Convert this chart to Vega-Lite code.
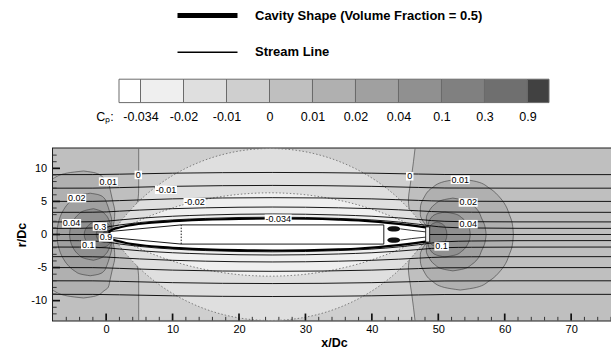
{
"$schema": "https://vega.github.io/schema/vega-lite/v6.json",
"background": "white",
"autosize": {"type": "pad"},
"padding": {"left": 14, "top": 8.2, "right": 0, "bottom": 0},
"bounds": "flush",
"center": true,
"spacing": 45.3,
"config": {"view": {"stroke": null}, "font": "Liberation Sans", "axis": {"labelFont": "Liberation Sans", "titleFont": "Liberation Sans"}, "legend": {"labelFont": "Liberation Sans"}},
"datasets": {
"bins": [{"band":"<-0.034","lo":-0.5,"hi":0},{"band":"-0.034–-0.02","lo":0,"hi":1},{"band":"-0.02–-0.01","lo":1,"hi":2},{"band":"-0.01–0","lo":2,"hi":3},{"band":"0–0.01","lo":3,"hi":4},{"band":"0.01–0.02","lo":4,"hi":5},{"band":"0.02–0.04","lo":5,"hi":6},{"band":"0.04–0.1","lo":6,"hi":7},{"band":"0.1–0.3","lo":7,"hi":8},{"band":"0.3–0.9","lo":8,"hi":9},{"band":">0.9","lo":9,"hi":9.5}],
"frame": [{"x1":-8,"x2":76.6,"y1":-13,"y2":13}],
"xt": [{"v":-6,"m":0},{"v":-4,"m":0},{"v":-2,"m":0},{"v":0,"m":1},{"v":2,"m":0},{"v":4,"m":0},{"v":6,"m":0},{"v":8,"m":0},{"v":10,"m":1},{"v":12,"m":0},{"v":14,"m":0},{"v":16,"m":0},{"v":18,"m":0},{"v":20,"m":1},{"v":22,"m":0},{"v":24,"m":0},{"v":26,"m":0},{"v":28,"m":0},{"v":30,"m":1},{"v":32,"m":0},{"v":34,"m":0},{"v":36,"m":0},{"v":38,"m":0},{"v":40,"m":1},{"v":42,"m":0},{"v":44,"m":0},{"v":46,"m":0},{"v":48,"m":0},{"v":50,"m":1},{"v":52,"m":0},{"v":54,"m":0},{"v":56,"m":0},{"v":58,"m":0},{"v":60,"m":1},{"v":62,"m":0},{"v":64,"m":0},{"v":66,"m":0},{"v":68,"m":0},{"v":70,"m":1},{"v":72,"m":0},{"v":74,"m":0},{"v":76,"m":0}],
"yt": [{"v":-12,"m":0},{"v":-11,"m":0},{"v":-10,"m":1},{"v":-9,"m":0},{"v":-8,"m":0},{"v":-7,"m":0},{"v":-6,"m":0},{"v":-5,"m":1},{"v":-4,"m":0},{"v":-3,"m":0},{"v":-2,"m":0},{"v":-1,"m":0},{"v":0,"m":1},{"v":1,"m":0},{"v":2,"m":0},{"v":3,"m":0},{"v":4,"m":0},{"v":5,"m":1},{"v":6,"m":0},{"v":7,"m":0},{"v":8,"m":0},{"v":9,"m":0},{"v":10,"m":1},{"v":11,"m":0},{"v":12,"m":0}],
"zero": [{"y":-13,"xl":4.9,"xr":46.5},{"y":-9,"xl":4.9,"xr":46.0},{"y":-7,"xl":4.9,"xr":45.7},{"y":-5.3,"xl":4.8,"xr":45.5},{"y":-4,"xl":4.3,"xr":45.6},{"y":-3.3,"xl":4.0,"xr":45.9},{"y":-2.5,"xl":3.4,"xr":46.5},{"y":-1.8,"xl":2.6,"xr":47.2},{"y":-1.2,"xl":1.8,"xr":48.0},{"y":-0.8,"xl":1.0,"xr":48.5},{"y":0,"xl":0.8,"xr":48.6},{"y":0.8,"xl":1.0,"xr":48.5},{"y":1.2,"xl":1.8,"xr":48.0},{"y":1.8,"xl":2.6,"xr":47.2},{"y":2.5,"xl":3.4,"xr":46.5},{"y":3.3,"xl":4.0,"xr":45.9},{"y":4,"xl":4.3,"xr":45.6},{"y":5.3,"xl":4.8,"xr":45.5},{"y":7,"xl":4.9,"xr":45.7},{"y":9,"xl":4.9,"xr":46.0},{"y":13,"xl":4.9,"xr":46.5}],
"lens": [
{"lev":-0.01,"x":0.8,"hi":0,"lo":0},{"lev":-0.01,"x":2,"hi":1.71,"lo":-1.71},{"lev":-0.01,"x":4,"hi":4.07,"lo":-4.07},{"lev":-0.01,"x":6,"hi":6.0,"lo":-6.0},{"lev":-0.01,"x":8,"hi":7.59,"lo":-7.59},{"lev":-0.01,"x":10,"hi":8.91,"lo":-8.91},{"lev":-0.01,"x":12,"hi":10.01,"lo":-10.01},{"lev":-0.01,"x":14,"hi":10.91,"lo":-10.91},{"lev":-0.01,"x":16,"hi":11.64,"lo":-11.64},{"lev":-0.01,"x":18,"hi":12.2,"lo":-12.2},{"lev":-0.01,"x":20,"hi":12.61,"lo":-12.61},{"lev":-0.01,"x":22,"hi":12.87,"lo":-12.87},{"lev":-0.01,"x":24.7,"hi":13.0,"lo":-13.0},{"lev":-0.01,"x":27.4,"hi":12.87,"lo":-12.87},{"lev":-0.01,"x":29.4,"hi":12.61,"lo":-12.61},{"lev":-0.01,"x":31.4,"hi":12.2,"lo":-12.2},{"lev":-0.01,"x":33.4,"hi":11.64,"lo":-11.64},{"lev":-0.01,"x":35.4,"hi":10.91,"lo":-10.91},{"lev":-0.01,"x":37.4,"hi":10.01,"lo":-10.01},{"lev":-0.01,"x":39.4,"hi":8.91,"lo":-8.91},{"lev":-0.01,"x":41.4,"hi":7.59,"lo":-7.59},{"lev":-0.01,"x":43.4,"hi":6.0,"lo":-6.0},{"lev":-0.01,"x":45.4,"hi":4.07,"lo":-4.07},{"lev":-0.01,"x":47.4,"hi":1.71,"lo":-1.71},{"lev":-0.01,"x":48.6,"hi":0,"lo":0},
{"lev":-0.02,"x":0.8,"hi":0,"lo":0},{"lev":-0.02,"x":2,"hi":0.66,"lo":-0.66},{"lev":-0.02,"x":4,"hi":1.66,"lo":-1.66},{"lev":-0.02,"x":6,"hi":2.55,"lo":-2.55},{"lev":-0.02,"x":8,"hi":3.33,"lo":-3.33},{"lev":-0.02,"x":10,"hi":4.02,"lo":-4.02},{"lev":-0.02,"x":12,"hi":4.61,"lo":-4.61},{"lev":-0.02,"x":14,"hi":5.10,"lo":-5.10},{"lev":-0.02,"x":16,"hi":5.51,"lo":-5.51},{"lev":-0.02,"x":18,"hi":5.83,"lo":-5.83},{"lev":-0.02,"x":20,"hi":6.07,"lo":-6.07},{"lev":-0.02,"x":22,"hi":6.22,"lo":-6.22},{"lev":-0.02,"x":24.7,"hi":6.3,"lo":-6.3},{"lev":-0.02,"x":27.4,"hi":6.22,"lo":-6.22},{"lev":-0.02,"x":29.4,"hi":6.07,"lo":-6.07},{"lev":-0.02,"x":31.4,"hi":5.83,"lo":-5.83},{"lev":-0.02,"x":33.4,"hi":5.51,"lo":-5.51},{"lev":-0.02,"x":35.4,"hi":5.10,"lo":-5.10},{"lev":-0.02,"x":37.4,"hi":4.61,"lo":-4.61},{"lev":-0.02,"x":39.4,"hi":4.02,"lo":-4.02},{"lev":-0.02,"x":41.4,"hi":3.33,"lo":-3.33},{"lev":-0.02,"x":43.4,"hi":2.55,"lo":-2.55},{"lev":-0.02,"x":45.4,"hi":1.66,"lo":-1.66},{"lev":-0.02,"x":47.4,"hi":0.66,"lo":-0.66},{"lev":-0.02,"x":48.6,"hi":0,"lo":0}],
"loops": [
{"lev":0.01,"s":"f","y":-9.6,"xl":-3.4,"xr":-3.4},{"lev":0.01,"s":"f","y":-9.3,"xl":-5.8,"xr":-1.6},{"lev":0.01,"s":"f","y":-8.5,"xl":-7.9,"xr":-0.3},{"lev":0.01,"s":"f","y":-8.0,"xl":-8.6,"xr":0.3},{"lev":0.01,"s":"f","y":-6.8,"xl":-10.1,"xr":0.6},{"lev":0.01,"s":"f","y":-5.0,"xl":-11.5,"xr":1.0},{"lev":0.01,"s":"f","y":-3.5,"xl":-12.3,"xr":1.3},{"lev":0.01,"s":"f","y":-2.0,"xl":-12.8,"xr":1.2},{"lev":0.01,"s":"f","y":-1.0,"xl":-13,"xr":1.0},{"lev":0.01,"s":"f","y":0,"xl":-13,"xr":0.8},{"lev":0.01,"s":"f","y":1.0,"xl":-13,"xr":1.0},{"lev":0.01,"s":"f","y":2.0,"xl":-12.8,"xr":1.2},{"lev":0.01,"s":"f","y":3.5,"xl":-12.3,"xr":1.3},{"lev":0.01,"s":"f","y":5.0,"xl":-11.5,"xr":1.0},{"lev":0.01,"s":"f","y":6.8,"xl":-10.1,"xr":0.6},{"lev":0.01,"s":"f","y":8.0,"xl":-8.6,"xr":0.3},{"lev":0.01,"s":"f","y":8.5,"xl":-7.9,"xr":-0.3},{"lev":0.01,"s":"f","y":9.3,"xl":-5.8,"xr":-1.6},{"lev":0.01,"s":"f","y":9.6,"xl":-3.4,"xr":-3.4},
{"lev":0.02,"s":"f","y":-6.24,"xl":-2.4,"xr":-2.4},{"lev":0.02,"s":"f","y":-6.0,"xl":-3.77,"xr":-1.1},{"lev":0.02,"s":"f","y":-5.5,"xl":-4.76,"xr":-0.3},{"lev":0.02,"s":"f","y":-4.7,"xl":-5.69,"xr":0.1},{"lev":0.02,"s":"f","y":-3.5,"xl":-6.54,"xr":0.5},{"lev":0.02,"s":"f","y":-2.0,"xl":-7.14,"xr":0.85},{"lev":0.02,"s":"f","y":-1.0,"xl":-7.34,"xr":0.85},{"lev":0.02,"s":"f","y":0,"xl":-7.4,"xr":0.8},{"lev":0.02,"s":"f","y":1.0,"xl":-7.34,"xr":0.85},{"lev":0.02,"s":"f","y":2.0,"xl":-7.14,"xr":0.85},{"lev":0.02,"s":"f","y":3.5,"xl":-6.54,"xr":0.5},{"lev":0.02,"s":"f","y":4.7,"xl":-5.69,"xr":0.1},{"lev":0.02,"s":"f","y":5.5,"xl":-4.76,"xr":-0.3},{"lev":0.02,"s":"f","y":6.0,"xl":-3.77,"xr":-1.1},{"lev":0.02,"s":"f","y":6.24,"xl":-2.4,"xr":-2.4},
{"lev":0.04,"s":"f","y":-3.9,"xl":-1.9,"xr":-1.9},{"lev":0.04,"s":"f","y":-3.6,"xl":-3.29,"xr":-0.9},{"lev":0.04,"s":"f","y":-3.0,"xl":-4.2,"xr":-0.1},{"lev":0.04,"s":"f","y":-2.0,"xl":-4.99,"xr":0.5},{"lev":0.04,"s":"f","y":-1.0,"xl":-5.38,"xr":0.8},{"lev":0.04,"s":"f","y":0,"xl":-5.5,"xr":0.8},{"lev":0.04,"s":"f","y":1.0,"xl":-5.38,"xr":0.8},{"lev":0.04,"s":"f","y":2.0,"xl":-4.99,"xr":0.5},{"lev":0.04,"s":"f","y":3.0,"xl":-4.2,"xr":-0.1},{"lev":0.04,"s":"f","y":3.6,"xl":-3.29,"xr":-0.9},{"lev":0.04,"s":"f","y":3.9,"xl":-1.9,"xr":-1.9},
{"lev":0.1,"s":"f","y":-2.0,"xl":-1.0,"xr":-1.0},{"lev":0.1,"s":"f","y":-1.8,"xl":-2.0,"xr":0.0},{"lev":0.1,"s":"f","y":-1.4,"xl":-2.64,"xr":0.5},{"lev":0.1,"s":"f","y":-1.0,"xl":-2.99,"xr":0.75},{"lev":0.1,"s":"f","y":0,"xl":-3.3,"xr":0.8},{"lev":0.1,"s":"f","y":1.0,"xl":-2.99,"xr":0.75},{"lev":0.1,"s":"f","y":1.4,"xl":-2.64,"xr":0.5},{"lev":0.1,"s":"f","y":1.8,"xl":-2.0,"xr":0.0},{"lev":0.1,"s":"f","y":2.0,"xl":-1.0,"xr":-1.0},
{"lev":0.3,"s":"f","y":-1.2,"xl":-0.3,"xr":-0.3},{"lev":0.3,"s":"f","y":-1.0,"xl":-0.96,"xr":0.4},{"lev":0.3,"s":"f","y":-0.6,"xl":-1.34,"xr":0.75},{"lev":0.3,"s":"f","y":0,"xl":-1.5,"xr":0.8},{"lev":0.3,"s":"f","y":0.6,"xl":-1.34,"xr":0.75},{"lev":0.3,"s":"f","y":1.0,"xl":-0.96,"xr":0.4},{"lev":0.3,"s":"f","y":1.2,"xl":-0.3,"xr":-0.3},
{"lev":0.9,"s":"f","y":-0.7,"xl":0.2,"xr":0.2},{"lev":0.9,"s":"f","y":-0.4,"xl":-0.37,"xr":0.7},{"lev":0.9,"s":"f","y":0,"xl":-0.5,"xr":0.8},{"lev":0.9,"s":"f","y":0.4,"xl":-0.37,"xr":0.7},{"lev":0.9,"s":"f","y":0.7,"xl":0.2,"xr":0.2},
{"lev":0.01,"s":"r","y":-8.4,"xl":53.3,"xr":53.3},{"lev":0.01,"s":"r","y":-8.0,"xl":50.9,"xr":55.74},{"lev":0.01,"s":"r","y":-7.0,"xl":49.0,"xr":57.7},{"lev":0.01,"s":"r","y":-5.5,"xl":47.8,"xr":59.35},{"lev":0.01,"s":"r","y":-4.0,"xl":47.3,"xr":60.33},{"lev":0.01,"s":"r","y":-3.0,"xl":47.3,"xr":60.7},{"lev":0.01,"s":"r","y":-2.0,"xl":47.7,"xr":61.07},{"lev":0.01,"s":"r","y":-1.2,"xl":48.3,"xr":61.2},{"lev":0.01,"s":"r","y":-0.8,"xl":48.6,"xr":61.25},{"lev":0.01,"s":"r","y":0,"xl":48.6,"xr":61.3},{"lev":0.01,"s":"r","y":0.8,"xl":48.6,"xr":61.25},{"lev":0.01,"s":"r","y":1.2,"xl":48.3,"xr":61.2},{"lev":0.01,"s":"r","y":2.0,"xl":47.7,"xr":61.07},{"lev":0.01,"s":"r","y":3.0,"xl":47.3,"xr":60.7},{"lev":0.01,"s":"r","y":4.0,"xl":47.3,"xr":60.33},{"lev":0.01,"s":"r","y":5.5,"xl":47.8,"xr":59.35},{"lev":0.01,"s":"r","y":7.0,"xl":49.0,"xr":57.7},{"lev":0.01,"s":"r","y":8.0,"xl":50.9,"xr":55.74},{"lev":0.01,"s":"r","y":8.4,"xl":53.3,"xr":53.3},
{"lev":0.02,"s":"r","y":-5.5,"xl":52.2,"xr":52.2},{"lev":0.02,"s":"r","y":-5.2,"xl":50.6,"xr":53.83},{"lev":0.02,"s":"r","y":-4.5,"xl":49.4,"xr":55.08},{"lev":0.02,"s":"r","y":-3.5,"xl":48.6,"xr":56.06},{"lev":0.02,"s":"r","y":-2.5,"xl":48.2,"xr":56.5},{"lev":0.02,"s":"r","y":-1.5,"xl":48.3,"xr":56.95},{"lev":0.02,"s":"r","y":-0.8,"xl":48.6,"xr":57.1},{"lev":0.02,"s":"r","y":0,"xl":48.6,"xr":57.2},{"lev":0.02,"s":"r","y":0.8,"xl":48.6,"xr":57.1},{"lev":0.02,"s":"r","y":1.5,"xl":48.3,"xr":56.95},{"lev":0.02,"s":"r","y":2.5,"xl":48.2,"xr":56.5},{"lev":0.02,"s":"r","y":3.5,"xl":48.6,"xr":56.06},{"lev":0.02,"s":"r","y":4.5,"xl":49.4,"xr":55.08},{"lev":0.02,"s":"r","y":5.2,"xl":50.6,"xr":53.83},{"lev":0.02,"s":"r","y":5.5,"xl":52.2,"xr":52.2},
{"lev":0.04,"s":"r","y":-3.4,"xl":51.0,"xr":51.0},{"lev":0.04,"s":"r","y":-3.1,"xl":49.7,"xr":52.56},{"lev":0.04,"s":"r","y":-2.5,"xl":48.9,"xr":53.58},{"lev":0.04,"s":"r","y":-1.5,"xl":48.5,"xr":54.41},{"lev":0.04,"s":"r","y":-0.8,"xl":48.6,"xr":54.7},{"lev":0.04,"s":"r","y":0,"xl":48.6,"xr":54.8},{"lev":0.04,"s":"r","y":0.8,"xl":48.6,"xr":54.7},{"lev":0.04,"s":"r","y":1.5,"xl":48.5,"xr":54.41},{"lev":0.04,"s":"r","y":2.5,"xl":48.9,"xr":53.58},{"lev":0.04,"s":"r","y":3.1,"xl":49.7,"xr":52.56},{"lev":0.04,"s":"r","y":3.4,"xl":51.0,"xr":51.0},
{"lev":0.1,"s":"r","y":-1.9,"xl":49.8,"xr":49.8},{"lev":0.1,"s":"r","y":-1.6,"xl":49.1,"xr":50.6},{"lev":0.1,"s":"r","y":-1.0,"xl":48.7,"xr":51.08},{"lev":0.1,"s":"r","y":0,"xl":48.6,"xr":51.3},{"lev":0.1,"s":"r","y":1.0,"xl":48.7,"xr":51.08},{"lev":0.1,"s":"r","y":1.6,"xl":49.1,"xr":50.6},{"lev":0.1,"s":"r","y":1.9,"xl":49.8,"xr":49.8}],
"cavity": [{"x":0.5,"hi":0.5,"lo":-0.5},{"x":1,"hi":0.75,"lo":-0.75},{"x":2,"hi":1.05,"lo":-1.05},{"x":3,"hi":1.28,"lo":-1.28},{"x":4,"hi":1.45,"lo":-1.45},{"x":6,"hi":1.7,"lo":-1.7},{"x":8,"hi":1.88,"lo":-1.88},{"x":11,"hi":2.07,"lo":-2.07},{"x":15,"hi":2.25,"lo":-2.25},{"x":20,"hi":2.37,"lo":-2.37},{"x":25,"hi":2.42,"lo":-2.42},{"x":30,"hi":2.38,"lo":-2.38},{"x":35,"hi":2.25,"lo":-2.25},{"x":38,"hi":2.12,"lo":-2.12},{"x":41,"hi":1.9,"lo":-1.9},{"x":44,"hi":1.6,"lo":-1.6},{"x":46.5,"hi":1.3,"lo":-1.3},{"x":48.3,"hi":1.05,"lo":-1.05}],
"stream": [
{"s":"p1","x":-8,"y":0.92},{"s":"p1","x":-4,"y":0.932},{"s":"p1","x":-2,"y":0.984},{"s":"p1","x":0,"y":1.126},{"s":"p1","x":2,"y":1.434},{"s":"p1","x":5,"y":1.802},{"s":"p1","x":10,"y":2.201},{"s":"p1","x":15,"y":2.431},{"s":"p1","x":20,"y":2.57},{"s":"p1","x":25,"y":2.617},{"s":"p1","x":30,"y":2.57},{"s":"p1","x":35,"y":2.431},{"s":"p1","x":40,"y":2.201},{"s":"p1","x":44,"y":1.889},{"s":"p1","x":47,"y":1.552},{"s":"p1","x":49,"y":1.287},{"s":"p1","x":51,"y":1.098},{"s":"p1","x":55,"y":0.984},{"s":"p1","x":62,"y":0.932},{"s":"p1","x":77,"y":0.92},
{"s":"n1","x":-8,"y":-0.92},{"s":"n1","x":-4,"y":-0.932},{"s":"n1","x":-2,"y":-0.984},{"s":"n1","x":0,"y":-1.126},{"s":"n1","x":2,"y":-1.434},{"s":"n1","x":5,"y":-1.802},{"s":"n1","x":10,"y":-2.201},{"s":"n1","x":15,"y":-2.431},{"s":"n1","x":20,"y":-2.57},{"s":"n1","x":25,"y":-2.617},{"s":"n1","x":30,"y":-2.57},{"s":"n1","x":35,"y":-2.431},{"s":"n1","x":40,"y":-2.201},{"s":"n1","x":44,"y":-1.889},{"s":"n1","x":47,"y":-1.552},{"s":"n1","x":49,"y":-1.287},{"s":"n1","x":51,"y":-1.098},{"s":"n1","x":55,"y":-0.984},{"s":"n1","x":62,"y":-0.932},{"s":"n1","x":77,"y":-0.92},
{"s":"p2","x":-8,"y":1.9},{"s":"p2","x":-4,"y":1.906},{"s":"p2","x":-2,"y":1.932},{"s":"p2","x":0,"y":2.008},{"s":"p2","x":2,"y":2.195},{"s":"p2","x":5,"y":2.452},{"s":"p2","x":10,"y":2.759},{"s":"p2","x":15,"y":2.945},{"s":"p2","x":20,"y":3.061},{"s":"p2","x":25,"y":3.1},{"s":"p2","x":30,"y":3.061},{"s":"p2","x":35,"y":2.945},{"s":"p2","x":40,"y":2.759},{"s":"p2","x":44,"y":2.516},{"s":"p2","x":47,"y":2.274},{"s":"p2","x":49,"y":2.102},{"s":"p2","x":51,"y":1.992},{"s":"p2","x":55,"y":1.932},{"s":"p2","x":62,"y":1.906},{"s":"p2","x":77,"y":1.9},
{"s":"n2","x":-8,"y":-1.9},{"s":"n2","x":-4,"y":-1.906},{"s":"n2","x":-2,"y":-1.932},{"s":"n2","x":0,"y":-2.008},{"s":"n2","x":2,"y":-2.195},{"s":"n2","x":5,"y":-2.452},{"s":"n2","x":10,"y":-2.759},{"s":"n2","x":15,"y":-2.945},{"s":"n2","x":20,"y":-3.061},{"s":"n2","x":25,"y":-3.1},{"s":"n2","x":30,"y":-3.061},{"s":"n2","x":35,"y":-2.945},{"s":"n2","x":40,"y":-2.759},{"s":"n2","x":44,"y":-2.516},{"s":"n2","x":47,"y":-2.274},{"s":"n2","x":49,"y":-2.102},{"s":"n2","x":51,"y":-1.992},{"s":"n2","x":55,"y":-1.932},{"s":"n2","x":62,"y":-1.906},{"s":"n2","x":77,"y":-1.9},
{"s":"p3","x":-8,"y":3.35},{"s":"p3","x":-4,"y":3.353},{"s":"p3","x":-2,"y":3.368},{"s":"p3","x":0,"y":3.412},{"s":"p3","x":2,"y":3.526},{"s":"p3","x":5,"y":3.691},{"s":"p3","x":10,"y":3.902},{"s":"p3","x":15,"y":4.035},{"s":"p3","x":20,"y":4.121},{"s":"p3","x":25,"y":4.15},{"s":"p3","x":30,"y":4.121},{"s":"p3","x":35,"y":4.035},{"s":"p3","x":40,"y":3.902},{"s":"p3","x":44,"y":3.734},{"s":"p3","x":47,"y":3.576},{"s":"p3","x":49,"y":3.469},{"s":"p3","x":51,"y":3.403},{"s":"p3","x":55,"y":3.368},{"s":"p3","x":62,"y":3.353},{"s":"p3","x":77,"y":3.35},
{"s":"n3","x":-8,"y":-3.35},{"s":"n3","x":-4,"y":-3.353},{"s":"n3","x":-2,"y":-3.368},{"s":"n3","x":0,"y":-3.412},{"s":"n3","x":2,"y":-3.526},{"s":"n3","x":5,"y":-3.691},{"s":"n3","x":10,"y":-3.902},{"s":"n3","x":15,"y":-4.035},{"s":"n3","x":20,"y":-4.121},{"s":"n3","x":25,"y":-4.15},{"s":"n3","x":30,"y":-4.121},{"s":"n3","x":35,"y":-4.035},{"s":"n3","x":40,"y":-3.902},{"s":"n3","x":44,"y":-3.734},{"s":"n3","x":47,"y":-3.576},{"s":"n3","x":49,"y":-3.469},{"s":"n3","x":51,"y":-3.403},{"s":"n3","x":55,"y":-3.368},{"s":"n3","x":62,"y":-3.353},{"s":"n3","x":77,"y":-3.35},
{"s":"p5","x":-8,"y":5},{"s":"p5","x":-2,"y":5.012},{"s":"p5","x":2,"y":5.12},{"s":"p5","x":10,"y":5.385},{"s":"p5","x":25,"y":5.568},{"s":"p5","x":40,"y":5.385},{"s":"p5","x":47,"y":5.154},{"s":"p5","x":51,"y":5.036},{"s":"p5","x":62,"y":5.002},{"s":"p5","x":77,"y":5},
{"s":"n5","x":-8,"y":-5},{"s":"n5","x":-2,"y":-5.012},{"s":"n5","x":2,"y":-5.12},{"s":"n5","x":10,"y":-5.385},{"s":"n5","x":25,"y":-5.568},{"s":"n5","x":40,"y":-5.385},{"s":"n5","x":47,"y":-5.154},{"s":"n5","x":51,"y":-5.036},{"s":"n5","x":62,"y":-5.002},{"s":"n5","x":77,"y":-5},
{"s":"p7","x":-8,"y":7},{"s":"p7","x":-2,"y":7.009},{"s":"p7","x":2,"y":7.086},{"s":"p7","x":10,"y":7.28},{"s":"p7","x":25,"y":7.416},{"s":"p7","x":40,"y":7.28},{"s":"p7","x":47,"y":7.111},{"s":"p7","x":51,"y":7.026},{"s":"p7","x":62,"y":7.002},{"s":"p7","x":77,"y":7},
{"s":"n7","x":-8,"y":-7},{"s":"n7","x":-2,"y":-7.009},{"s":"n7","x":2,"y":-7.086},{"s":"n7","x":10,"y":-7.28},{"s":"n7","x":25,"y":-7.416},{"s":"n7","x":40,"y":-7.28},{"s":"n7","x":47,"y":-7.111},{"s":"n7","x":51,"y":-7.026},{"s":"n7","x":62,"y":-7.002},{"s":"n7","x":77,"y":-7},
{"s":"p9","x":-8,"y":9.05},{"s":"p9","x":-2,"y":9.057},{"s":"p9","x":2,"y":9.117},{"s":"p9","x":10,"y":9.268},{"s":"p9","x":25,"y":9.376},{"s":"p9","x":40,"y":9.268},{"s":"p9","x":47,"y":9.136},{"s":"p9","x":51,"y":9.07},{"s":"p9","x":62,"y":9.051},{"s":"p9","x":77,"y":9.05},
{"s":"n9","x":-8,"y":-9.05},{"s":"n9","x":-2,"y":-9.057},{"s":"n9","x":2,"y":-9.117},{"s":"n9","x":10,"y":-9.268},{"s":"n9","x":25,"y":-9.376},{"s":"n9","x":40,"y":-9.268},{"s":"n9","x":47,"y":-9.136},{"s":"n9","x":51,"y":-9.07},{"s":"n9","x":62,"y":-9.051},{"s":"n9","x":77,"y":-9.05},
{"s":"c1","x":-8,"y":0},{"s":"c1","x":0.5,"y":0},{"s":"c2","x":48.7,"y":0},{"s":"c2","x":77,"y":0}],
"body": [{"i":0,"x":0.6,"y":0.45},{"i":1,"x":11.3,"y":1.45},{"i":2,"x":41.8,"y":1.45},{"i":3,"x":41.8,"y":-1.45},{"i":4,"x":11.3,"y":-1.45},{"i":5,"x":0.6,"y":-0.45}],
"dot": [{"x":11.3,"y1":-1.45,"y2":1.45}],
"blobs": [{"b":"u","x":42.3,"hi":0.85,"lo":0.85},{"b":"u","x":42.5,"hi":1.09,"lo":0.61},{"b":"u","x":42.8,"hi":1.2,"lo":0.5},{"b":"u","x":43.3,"hi":1.25,"lo":0.45},{"b":"u","x":43.8,"hi":1.2,"lo":0.5},{"b":"u","x":44.1,"hi":1.09,"lo":0.61},{"b":"u","x":44.3,"hi":0.85,"lo":0.85},
{"b":"d","x":42.3,"hi":-0.85,"lo":-0.85},{"b":"d","x":42.5,"hi":-0.61,"lo":-1.09},{"b":"d","x":42.8,"hi":-0.5,"lo":-1.2},{"b":"d","x":43.3,"hi":-0.45,"lo":-1.25},{"b":"d","x":43.8,"hi":-0.5,"lo":-1.2},{"b":"d","x":44.1,"hi":-0.61,"lo":-1.09},{"b":"d","x":44.3,"hi":-0.85,"lo":-0.85}],
"wake": [{"w":"a","x":44.3,"y":0.85},{"w":"a","x":46,"y":0.62},{"w":"a","x":48.1,"y":0.4},{"w":"b","x":44.3,"y":-0.85},{"w":"b","x":46,"y":-0.62},{"w":"b","x":48.1,"y":-0.4}],
"closure": [{"x1":48.1,"x2":48.7,"y1":-1.15,"y2":1.15}],
"labels": [{"x":0.33,"y":8.0,"t":"0.01"},{"x":-4.43,"y":5.49,"t":"0.02"},{"x":-5.2,"y":1.7,"t":"0.04"},{"x":-0.93,"y":1.2,"t":"0.3"},{"x":-0.02,"y":-0.45,"t":"0.9"},{"x":-2.69,"y":-1.56,"t":"0.1"},{"x":4.84,"y":9.0,"t":"0"},{"x":9.0,"y":6.76,"t":"-0.01"},{"x":13.3,"y":4.88,"t":"-0.02"},{"x":25.9,"y":2.37,"t":"-0.034"},{"x":45.7,"y":8.8,"t":"0"},{"x":53.3,"y":8.27,"t":"0.01"},{"x":54.5,"y":4.84,"t":"0.02"},{"x":54.5,"y":1.56,"t":"0.04"},{"x":50.5,"y":-1.8,"t":"0.1"}]
},
"vconcat": [
{
"width": 430, "height": 23.4,
"data": {"name": "bins"},
"mark": {"type": "rect", "stroke": "#6a6a6a", "strokeWidth": 1},
"encoding": {
"x": {"field": "lo", "type": "quantitative", "scale": {"domain": [-0.5, 9.5], "nice": false, "zero": false},
"axis": {"values": [0,1,2,3,4,5,6,7,8,9], "labelExpr": "['-0.034','-0.02','-0.01','0','0.01','0.02','0.04','0.1','0.3','0.9'][datum.value]", "ticks": false, "domain": false, "grid": false, "labelPadding": 7.5, "labelFont": "Liberation Sans", "labelFontSize": 12.5, "labelColor": "#000", "labelFlush": false, "labelOverlap": false, "title": "Cₚ:", "titleX": -14.5, "titleY": 14.3, "titleAngle": 0, "titleAlign": "center", "titleBaseline": "middle", "titleFont": "Liberation Sans", "titleFontWeight": "normal", "titleFontSize": 12.5, "titleColor": "#000"}},
"x2": {"field": "hi"},
"fill": {"field": "band", "type": "nominal", "scale": {"domain": ["<-0.034","-0.034–-0.02","-0.02–-0.01","-0.01–0","0–0.01","0.01–0.02","0.02–0.04","0.04–0.1","0.1–0.3","0.3–0.9",">0.9"], "range": ["#ffffff","#efefef","#dfdfdf","#cfcfcf","#bfbfbf","#b0b0b0","#a0a0a0","#909090","#808080","#6f6f6f","#414141"]}, "legend": null}
}
},
{
"width": 562, "height": 172,
"view": {"stroke": "#1e1e1e", "strokeWidth": 2},
"layer": [
{"data": {"name": "frame"}, "mark": {"type": "rect"},
"encoding": {
"x": {"field": "x1", "type": "quantitative", "scale": {"domain": [-8, 76.6], "nice": false, "zero": false},
"axis": {"title": "x/Dc", "values": [0,10,20,30,40,50,60,70], "ticks": false, "domain": false, "grid": false, "labelPadding": 2.8, "labelFontSize": 11, "labelColor": "#000", "labelFlush": false, "labelOverlap": false, "titleFontSize": 12.5, "titleFontWeight": "bold", "titleColor": "#000", "titlePadding": 2}},
"x2": {"field": "x2"},
"y": {"field": "y1", "type": "quantitative", "scale": {"domain": [-13, 13], "nice": false, "zero": false},
"axis": {"title": "r/Dc", "values": [-10,-5,0,5,10], "labelExpr": "'' + datum.value", "ticks": false, "domain": false, "grid": false, "labelPadding": 6.3, "labelFontSize": 11, "labelColor": "#000", "labelFlush": false, "labelOverlap": false, "titleFontSize": 12.5, "titleFontWeight": "bold", "titleColor": "#000", "titleX": -32, "titleY": 86, "titleAngle": -90, "titleAlign": "center", "titleBaseline": "middle"}},
"y2": {"field": "y2"},
"fill": {"datum": "0–0.01", "type": "nominal", "scale": {"domain": ["<-0.034","-0.034–-0.02","-0.02–-0.01","-0.01–0","0–0.01","0.01–0.02","0.02–0.04","0.04–0.1","0.1–0.3","0.3–0.9",">0.9"], "range": ["#ffffff","#efefef","#dfdfdf","#cfcfcf","#bfbfbf","#b0b0b0","#a0a0a0","#909090","#808080","#6f6f6f","#414141"]}, "legend": null}
}},
{"data": {"name": "zero"}, "mark": {"type": "area", "orient": "horizontal", "interpolate": "monotone", "stroke": "#3c3c3c", "strokeWidth": 0.6, "clip": true},
"encoding": {"y": {"field": "y", "type": "quantitative"}, "x": {"field": "xl", "type": "quantitative"}, "x2": {"field": "xr"},
"fill": {"datum": "-0.01–0", "type": "nominal", "scale": {"domain": ["<-0.034","-0.034–-0.02","-0.02–-0.01","-0.01–0","0–0.01","0.01–0.02","0.02–0.04","0.04–0.1","0.1–0.3","0.3–0.9",">0.9"], "range": ["#ffffff","#efefef","#dfdfdf","#cfcfcf","#bfbfbf","#b0b0b0","#a0a0a0","#909090","#808080","#6f6f6f","#414141"]}, "legend": null}}},
{"data": {"name": "lens"}, "transform": [{"filter": "datum.lev == -0.01"}], "mark": {"type": "area", "orient": "vertical", "interpolate": "monotone", "stroke": "#666", "strokeWidth": 0.8, "strokeDash": [1.5, 2], "clip": true},
"encoding": {"x": {"field": "x", "type": "quantitative"}, "y": {"field": "hi", "type": "quantitative"}, "y2": {"field": "lo"},
"fill": {"datum": "-0.02–-0.01", "type": "nominal", "scale": {"domain": ["<-0.034","-0.034–-0.02","-0.02–-0.01","-0.01–0","0–0.01","0.01–0.02","0.02–0.04","0.04–0.1","0.1–0.3","0.3–0.9",">0.9"], "range": ["#ffffff","#efefef","#dfdfdf","#cfcfcf","#bfbfbf","#b0b0b0","#a0a0a0","#909090","#808080","#6f6f6f","#414141"]}, "legend": null}}},
{"data": {"name": "lens"}, "transform": [{"filter": "datum.lev == -0.02"}], "mark": {"type": "area", "orient": "vertical", "interpolate": "monotone", "stroke": "#666", "strokeWidth": 0.8, "strokeDash": [1.5, 2], "clip": true},
"encoding": {"x": {"field": "x", "type": "quantitative"}, "y": {"field": "hi", "type": "quantitative"}, "y2": {"field": "lo"},
"fill": {"datum": "-0.034–-0.02", "type": "nominal", "scale": {"domain": ["<-0.034","-0.034–-0.02","-0.02–-0.01","-0.01–0","0–0.01","0.01–0.02","0.02–0.04","0.04–0.1","0.1–0.3","0.3–0.9",">0.9"], "range": ["#ffffff","#efefef","#dfdfdf","#cfcfcf","#bfbfbf","#b0b0b0","#a0a0a0","#909090","#808080","#6f6f6f","#414141"]}, "legend": null}}},
{"data": {"name": "loops"}, "transform": [{"filter": "datum.lev == 0.01"}], "mark": {"type": "area", "orient": "horizontal", "interpolate": "monotone", "stroke": "#3c3c3c", "strokeWidth": 0.6, "clip": true},
"encoding": {"y": {"field": "y", "type": "quantitative"}, "x": {"field": "xl", "type": "quantitative"}, "x2": {"field": "xr"}, "detail": {"field": "s"},
"fill": {"datum": "0.01–0.02", "type": "nominal", "scale": {"domain": ["<-0.034","-0.034–-0.02","-0.02–-0.01","-0.01–0","0–0.01","0.01–0.02","0.02–0.04","0.04–0.1","0.1–0.3","0.3–0.9",">0.9"], "range": ["#ffffff","#efefef","#dfdfdf","#cfcfcf","#bfbfbf","#b0b0b0","#a0a0a0","#909090","#808080","#6f6f6f","#414141"]}, "legend": null}}},
{"data": {"name": "loops"}, "transform": [{"filter": "datum.lev == 0.02"}], "mark": {"type": "area", "orient": "horizontal", "interpolate": "monotone", "stroke": "#3c3c3c", "strokeWidth": 0.6, "clip": true},
"encoding": {"y": {"field": "y", "type": "quantitative"}, "x": {"field": "xl", "type": "quantitative"}, "x2": {"field": "xr"}, "detail": {"field": "s"},
"fill": {"datum": "0.02–0.04", "type": "nominal", "scale": {"domain": ["<-0.034","-0.034–-0.02","-0.02–-0.01","-0.01–0","0–0.01","0.01–0.02","0.02–0.04","0.04–0.1","0.1–0.3","0.3–0.9",">0.9"], "range": ["#ffffff","#efefef","#dfdfdf","#cfcfcf","#bfbfbf","#b0b0b0","#a0a0a0","#909090","#808080","#6f6f6f","#414141"]}, "legend": null}}},
{"data": {"name": "loops"}, "transform": [{"filter": "datum.lev == 0.04"}], "mark": {"type": "area", "orient": "horizontal", "interpolate": "monotone", "stroke": "#3c3c3c", "strokeWidth": 0.6, "clip": true},
"encoding": {"y": {"field": "y", "type": "quantitative"}, "x": {"field": "xl", "type": "quantitative"}, "x2": {"field": "xr"}, "detail": {"field": "s"},
"fill": {"datum": "0.04–0.1", "type": "nominal", "scale": {"domain": ["<-0.034","-0.034–-0.02","-0.02–-0.01","-0.01–0","0–0.01","0.01–0.02","0.02–0.04","0.04–0.1","0.1–0.3","0.3–0.9",">0.9"], "range": ["#ffffff","#efefef","#dfdfdf","#cfcfcf","#bfbfbf","#b0b0b0","#a0a0a0","#909090","#808080","#6f6f6f","#414141"]}, "legend": null}}},
{"data": {"name": "loops"}, "transform": [{"filter": "datum.lev == 0.1"}], "mark": {"type": "area", "orient": "horizontal", "interpolate": "monotone", "stroke": "#3c3c3c", "strokeWidth": 0.6, "clip": true},
"encoding": {"y": {"field": "y", "type": "quantitative"}, "x": {"field": "xl", "type": "quantitative"}, "x2": {"field": "xr"}, "detail": {"field": "s"},
"fill": {"datum": "0.1–0.3", "type": "nominal", "scale": {"domain": ["<-0.034","-0.034–-0.02","-0.02–-0.01","-0.01–0","0–0.01","0.01–0.02","0.02–0.04","0.04–0.1","0.1–0.3","0.3–0.9",">0.9"], "range": ["#ffffff","#efefef","#dfdfdf","#cfcfcf","#bfbfbf","#b0b0b0","#a0a0a0","#909090","#808080","#6f6f6f","#414141"]}, "legend": null}}},
{"data": {"name": "loops"}, "transform": [{"filter": "datum.lev == 0.3"}], "mark": {"type": "area", "orient": "horizontal", "interpolate": "monotone", "stroke": "#3c3c3c", "strokeWidth": 0.6, "clip": true},
"encoding": {"y": {"field": "y", "type": "quantitative"}, "x": {"field": "xl", "type": "quantitative"}, "x2": {"field": "xr"}, "detail": {"field": "s"},
"fill": {"datum": "0.3–0.9", "type": "nominal", "scale": {"domain": ["<-0.034","-0.034–-0.02","-0.02–-0.01","-0.01–0","0–0.01","0.01–0.02","0.02–0.04","0.04–0.1","0.1–0.3","0.3–0.9",">0.9"], "range": ["#ffffff","#efefef","#dfdfdf","#cfcfcf","#bfbfbf","#b0b0b0","#a0a0a0","#909090","#808080","#6f6f6f","#414141"]}, "legend": null}}},
{"data": {"name": "loops"}, "transform": [{"filter": "datum.lev == 0.9"}], "mark": {"type": "area", "orient": "horizontal", "interpolate": "monotone", "stroke": "#3c3c3c", "strokeWidth": 0.6, "clip": true},
"encoding": {"y": {"field": "y", "type": "quantitative"}, "x": {"field": "xl", "type": "quantitative"}, "x2": {"field": "xr"}, "detail": {"field": "s"},
"fill": {"datum": ">0.9", "type": "nominal", "scale": {"domain": ["<-0.034","-0.034–-0.02","-0.02–-0.01","-0.01–0","0–0.01","0.01–0.02","0.02–0.04","0.04–0.1","0.1–0.3","0.3–0.9",">0.9"], "range": ["#ffffff","#efefef","#dfdfdf","#cfcfcf","#bfbfbf","#b0b0b0","#a0a0a0","#909090","#808080","#6f6f6f","#414141"]}, "legend": null}}},
{"data": {"name": "cavity"}, "mark": {"type": "area", "orient": "vertical", "interpolate": "monotone", "strokeWidth": 2.2, "clip": true},
"encoding": {"x": {"field": "x", "type": "quantitative"}, "y": {"field": "hi", "type": "quantitative"}, "y2": {"field": "lo"},
"fill": {"datum": "<-0.034", "type": "nominal", "scale": {"domain": ["<-0.034","-0.034–-0.02","-0.02–-0.01","-0.01–0","0–0.01","0.01–0.02","0.02–0.04","0.04–0.1","0.1–0.3","0.3–0.9",">0.9"], "range": ["#ffffff","#efefef","#dfdfdf","#cfcfcf","#bfbfbf","#b0b0b0","#a0a0a0","#909090","#808080","#6f6f6f","#414141"]}, "legend": null},
"stroke": {"datum": "Cavity Shape (Volume Fraction = 0.5)", "type": "nominal", "scale": {"domain": ["Cavity Shape (Volume Fraction = 0.5)", "Stream Line"], "range": ["#000000", "#000000"]}}}},
{"data": {"name": "stream"}, "mark": {"type": "line", "interpolate": "monotone", "strokeWidth": 0.9, "clip": true},
"encoding": {"x": {"field": "x", "type": "quantitative"}, "y": {"field": "y", "type": "quantitative"}, "detail": {"field": "s"},
"stroke": {"datum": "Stream Line", "type": "nominal", "scale": {"domain": ["Cavity Shape (Volume Fraction = 0.5)", "Stream Line"], "range": ["#000000", "#000000"]},
"legend": {"orient": "none", "legendX": 148, "legendY": -70.1, "title": null, "direction": "vertical", "symbolType": "M-3,0H3", "symbolSize": 400, "symbolStrokeColor": "#000", "symbolFillColor": "transparent", "labelFont": "Liberation Sans", "labelFontSize": 13, "labelFontWeight": "bold", "labelColor": "#000", "labelOffset": 41, "rowPadding": 19.7, "padding": 0, "labelLimit": 400,
"encode": {"symbols": {"update": {"strokeWidth": {"signal": "datum.value === 'Stream Line' ? 1.4 : 5"}}}}}}}},
{"data": {"name": "body"}, "mark": {"type": "line", "stroke": "#000", "strokeWidth": 0.9},
"encoding": {"x": {"field": "x", "type": "quantitative"}, "y": {"field": "y", "type": "quantitative"}, "order": {"field": "i"}}},
{"data": {"name": "dot"}, "mark": {"type": "rule", "stroke": "#000", "strokeWidth": 0.9, "strokeDash": [1.5, 1.5]},
"encoding": {"x": {"field": "x", "type": "quantitative"}, "y": {"field": "y1", "type": "quantitative"}, "y2": {"field": "y2"}}},
{"data": {"name": "blobs"}, "mark": {"type": "area", "orient": "vertical", "interpolate": "monotone", "fill": "#111"},
"encoding": {"x": {"field": "x", "type": "quantitative"}, "y": {"field": "hi", "type": "quantitative"}, "y2": {"field": "lo"}, "detail": {"field": "b"}}},
{"data": {"name": "wake"}, "mark": {"type": "line", "interpolate": "monotone", "stroke": "#000", "strokeWidth": 0.8},
"encoding": {"x": {"field": "x", "type": "quantitative"}, "y": {"field": "y", "type": "quantitative"}, "detail": {"field": "w"}}},
{"data": {"name": "closure"}, "mark": {"type": "rect", "fill": "#ececec", "stroke": "#000", "strokeWidth": 0.8},
"encoding": {"x": {"field": "x1", "type": "quantitative"}, "x2": {"field": "x2"}, "y": {"field": "y1", "type": "quantitative"}, "y2": {"field": "y2"}}},
{"data": {"name": "labels"}, "mark": {"type": "point", "filled": true, "fill": "#ffffff", "size": 100, "opacity": 1, "strokeWidth": 0},
"encoding": {"x": {"field": "x", "type": "quantitative"}, "y": {"field": "y", "type": "quantitative"},
"shape": {"field": "t", "type": "nominal", "scale": {"domain": ["0","0.1","0.3","0.9","0.01","0.02","0.04","-0.01","-0.02","-0.034"], "range": ["M-0.75,-0.85H0.75V0.85H-0.75Z","M-1.45,-0.85H1.45V0.85H-1.45Z","M-1.45,-0.85H1.45V0.85H-1.45Z","M-1.45,-0.85H1.45V0.85H-1.45Z","M-1.9,-0.85H1.9V0.85H-1.9Z","M-1.9,-0.85H1.9V0.85H-1.9Z","M-1.9,-0.85H1.9V0.85H-1.9Z","M-2.2,-0.85H2.2V0.85H-2.2Z","M-2.2,-0.85H2.2V0.85H-2.2Z","M-2.7,-0.85H2.7V0.85H-2.7Z"]}, "legend": null}}},
{"data": {"name": "labels"}, "mark": {"type": "text", "font": "Liberation Sans", "fontSize": 9, "fill": "#000", "align": "center", "baseline": "middle"},
"encoding": {"x": {"field": "x", "type": "quantitative"}, "y": {"field": "y", "type": "quantitative"}, "text": {"field": "t"}}},
{"data": {"name": "xt"}, "transform": [{"filter": "datum.m == 1"}], "mark": {"type": "rule", "stroke": "#111", "strokeWidth": 1.7},
"encoding": {"x": {"field": "v", "type": "quantitative"}, "y": {"datum": -13, "type": "quantitative"}, "y2": {"datum": -11.95}}},
{"data": {"name": "xt"}, "transform": [{"filter": "datum.m == 0"}], "mark": {"type": "rule", "stroke": "#333", "strokeWidth": 1},
"encoding": {"x": {"field": "v", "type": "quantitative"}, "y": {"datum": -13, "type": "quantitative"}, "y2": {"datum": -12.45}}},
{"data": {"name": "yt"}, "transform": [{"filter": "datum.m == 1"}], "mark": {"type": "rule", "stroke": "#111", "strokeWidth": 1.7},
"encoding": {"y": {"field": "v", "type": "quantitative"}, "x": {"datum": -8, "type": "quantitative"}, "x2": {"datum": -6.95}}},
{"data": {"name": "yt"}, "transform": [{"filter": "datum.m == 0"}], "mark": {"type": "rule", "stroke": "#333", "strokeWidth": 1},
"encoding": {"y": {"field": "v", "type": "quantitative"}, "x": {"datum": -8, "type": "quantitative"}, "x2": {"datum": -7.45}}}
]
}
]
}
